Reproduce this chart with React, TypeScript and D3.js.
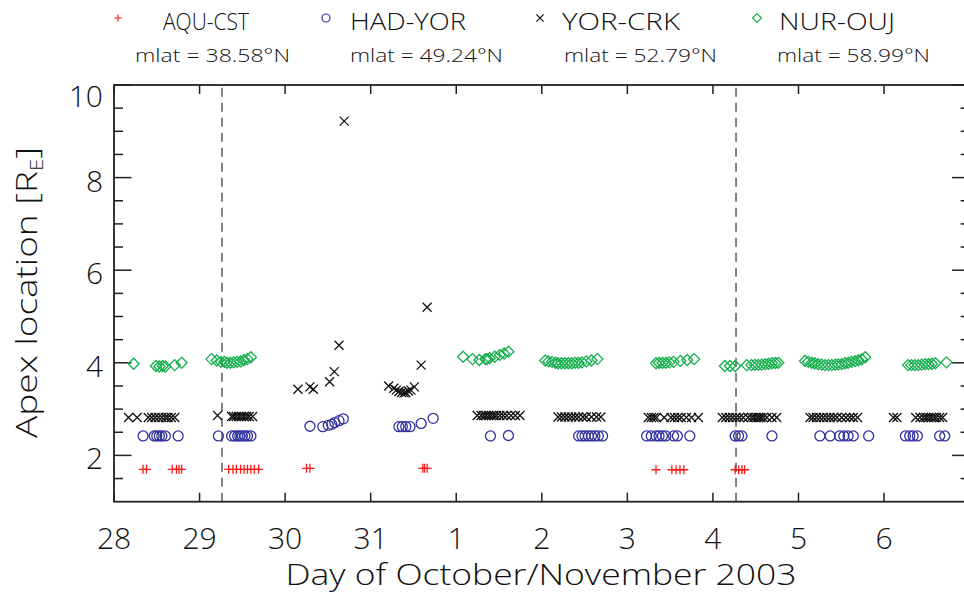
import React from "react";
import * as d3 from "d3";

// ---------- data ----------
const aquDays = [28.34, 28.38, 28.68, 28.73, 28.76, 28.79, 29.34, 29.39, 29.43, 29.48, 29.52, 29.56, 29.6, 29.64, 29.69, 30.25, 30.29, 31.61, 31.63, 31.66, 34.335, 34.52, 34.57, 34.615, 34.66, 35.26, 35.3, 35.34, 35.37];
const aquVals = [1.7, 1.7, 1.7, 1.7, 1.7, 1.7, 1.7, 1.7, 1.7, 1.7, 1.7, 1.7, 1.7, 1.7, 1.7, 1.72, 1.72, 1.72, 1.72, 1.72, 1.69, 1.69, 1.69, 1.69, 1.69, 1.69, 1.69, 1.69, 1.69];

const hadDays = [28.34, 28.47, 28.5, 28.53, 28.56, 28.6, 28.75, 29.22, 29.375, 29.41, 29.445, 29.47, 29.5, 29.53, 29.56, 29.6, 30.29, 30.44, 30.505, 30.545, 30.58, 30.63, 30.68, 31.33, 31.37, 31.41, 31.46, 31.59, 31.73, 32.4, 32.61, 33.43, 33.47, 33.505, 33.545, 33.58, 33.62, 33.66, 33.71, 34.225, 34.28, 34.335, 34.37, 34.41, 34.45, 34.54, 34.585, 34.73, 35.26, 35.3, 35.34, 35.69, 36.25, 36.37, 36.48, 36.53, 36.58, 36.64, 36.82, 37.25, 37.3, 37.34, 37.39, 37.65, 37.71];
const hadVals = [2.42, 2.42, 2.42, 2.42, 2.42, 2.42, 2.42, 2.42, 2.42, 2.42, 2.42, 2.42, 2.42, 2.42, 2.42, 2.42, 2.63, 2.62, 2.65, 2.67, 2.71, 2.75, 2.79, 2.62, 2.62, 2.62, 2.62, 2.69, 2.8, 2.42, 2.43, 2.42, 2.42, 2.42, 2.42, 2.42, 2.42, 2.42, 2.42, 2.42, 2.42, 2.42, 2.42, 2.42, 2.42, 2.42, 2.42, 2.42, 2.42, 2.42, 2.42, 2.42, 2.42, 2.42, 2.42, 2.42, 2.42, 2.42, 2.42, 2.42, 2.42, 2.42, 2.42, 2.42, 2.42];

const yorDays = [28.17, 28.27, 28.4, 28.44, 28.48, 28.52, 28.56, 28.6, 28.63, 28.67, 28.71, 29.21, 29.375, 29.4, 29.43, 29.46, 29.49, 29.52, 29.55, 29.58, 29.62, 30.15, 30.29, 30.33, 30.52, 30.575, 30.63, 30.69, 31.21, 31.27, 31.3, 31.33, 31.36, 31.39, 31.41, 31.44, 31.47, 31.51, 31.59, 31.66,
  32.245, 32.29, 32.32, 32.35, 32.38, 32.41, 32.44, 32.47, 32.51, 32.55, 32.59, 32.64, 32.69, 32.745,
  33.19, 33.23, 33.27, 33.31, 33.35, 33.39, 33.43, 33.48, 33.52, 33.58, 33.64, 33.69,
  34.245, 34.28, 34.31, 34.34, 34.43, 34.51, 34.55, 34.59, 34.63, 34.69, 34.75, 34.83,
  35.11, 35.15, 35.19, 35.23, 35.27, 35.31, 35.355, 35.41, 35.45, 35.48, 35.51, 35.535, 35.56, 35.59, 35.63, 35.69, 35.745,
  36.135, 36.17, 36.21, 36.25, 36.29, 36.33, 36.37, 36.41, 36.45, 36.505, 36.555, 36.6, 36.64, 36.69,
  37.11, 37.15, 37.37, 37.42, 37.46, 37.49, 37.52, 37.55, 37.58, 37.61, 37.65, 37.685];
const yorVals = [2.82, 2.82, 2.82, 2.82, 2.82, 2.82, 2.82, 2.82, 2.82, 2.82, 2.82, 2.86, 2.84, 2.84, 2.84, 2.84, 2.84, 2.84, 2.84, 2.84, 2.84, 3.43, 3.48, 3.43, 3.59, 3.81, 4.38, 9.22, 3.5, 3.45, 3.41, 3.38, 3.36, 3.35, 3.36, 3.39, 3.41, 3.48, 3.95, 5.2,
  2.86, 2.86, 2.86, 2.86, 2.86, 2.86, 2.86, 2.86, 2.86, 2.86, 2.86, 2.86, 2.86, 2.86,
  2.83, 2.83, 2.83, 2.83, 2.83, 2.83, 2.83, 2.83, 2.83, 2.83, 2.83, 2.83,
  2.82, 2.82, 2.82, 2.82, 2.82, 2.82, 2.82, 2.82, 2.82, 2.82, 2.82, 2.82,
  2.82, 2.82, 2.82, 2.82, 2.82, 2.82, 2.82, 2.82, 2.82, 2.82, 2.82, 2.82, 2.82, 2.82, 2.82, 2.82, 2.82,
  2.82, 2.82, 2.82, 2.82, 2.82, 2.82, 2.82, 2.82, 2.82, 2.82, 2.82, 2.82, 2.82, 2.82,
  2.82, 2.82, 2.82, 2.82, 2.82, 2.82, 2.82, 2.82, 2.82, 2.82, 2.82, 2.82];

const nurDays = [28.23, 28.49, 28.53, 28.57, 28.6, 28.71, 28.79,
  29.14, 29.2, 29.25, 29.29, 29.32, 29.36, 29.4, 29.44, 29.48, 29.52, 29.56, 29.6,
  32.08, 32.19, 32.27, 32.34, 32.36, 32.39, 32.45, 32.51, 32.56, 32.61,
  33.04, 33.08, 33.12, 33.16, 33.19, 33.23, 33.27, 33.31, 33.35, 33.39, 33.43, 33.47, 33.52, 33.58, 33.65,
  34.335, 34.37, 34.41, 34.45, 34.49, 34.54, 34.62, 34.7, 34.78,
  35.14, 35.2, 35.26, 35.395, 35.45, 35.49, 35.53, 35.57, 35.61, 35.65, 35.69, 35.73, 35.765,
  36.076, 36.115, 36.155, 36.19, 36.23, 36.27, 36.31, 36.35, 36.39, 36.43, 36.465, 36.505, 36.545, 36.58, 36.62, 36.66, 36.7, 36.74, 36.78,
  37.28, 37.32, 37.36, 37.4, 37.44, 37.48, 37.52, 37.56, 37.6, 37.73];
const nurVals = [3.98, 3.93, 3.92, 3.93, 3.92, 3.95, 4.0,
  4.08, 4.05, 4.02, 4.02, 4.0, 4.0, 4.01, 4.02, 4.03, 4.06, 4.08, 4.12,
  4.13, 4.08, 4.06, 4.08, 4.08, 4.1, 4.13, 4.17, 4.2, 4.24,
  4.05, 4.03, 4.02, 4.0, 3.99, 3.99, 3.99, 3.99, 3.99, 4.0, 4.0, 4.01, 4.03, 4.05, 4.08,
  3.99, 4.0, 4.0, 4.0, 4.01, 4.02, 4.04, 4.06, 4.08,
  3.93, 3.93, 3.93, 3.95, 3.95, 3.955, 3.955, 3.96, 3.97, 3.98, 3.99, 3.995, 4.0,
  4.04, 4.02, 4.0, 3.99, 3.97, 3.96, 3.95, 3.95, 3.95, 3.96, 3.965, 3.97, 3.99, 4.0, 4.02, 4.035, 4.055, 4.075, 4.12,
  3.95, 3.95, 3.95, 3.95, 3.96, 3.97, 3.97, 3.98, 3.99, 4.01];

const stationNames = ["AQU-CST", "HAD-YOR", "YOR-CRK", "NUR-OUJ"];
const stationMlat = ["mlat = 38.58°N", "mlat = 49.24°N", "mlat = 52.79°N", "mlat = 58.99°N"];
const dayTicks = [28, 29, 30, 31, 32, 33, 34, 35, 36, 37];
const yMajorTicks = [2, 4, 6, 8, 10];
const dashedDays = [29.262, 35.27];

// ---------- layout ----------
const W = 964, H = 593;
const FONT = "'Open Sans', 'Liberation Sans', Arial, sans-serif";
const FW = 300;
const x = d3.scaleLinear().domain([28, 38]).range([114, 969.6]);
const y = d3.scaleLinear().domain([1, 10]).range([501.7, 85]);

const RED = "#ff1a1a", BLUE = "#32329e", BLACK = "#111111", GREEN = "#14ae4c";

const sym = {
  plus: "M-4.5,0H4.5M0,-4.5V4.5",
  circle: "M5,0A5,5 0 1,1 -5,0A5,5 0 1,1 5,0Z",
  cross: "M-4.5,-4.5L4.5,4.5M-4.5,4.5L4.5,-4.5",
  diamond: "M0,-5.5L5.5,0L0,5.5L-5.5,0Z",
};

const series = [
  { days: aquDays, vals: aquVals, path: sym.plus, color: RED },
  { days: hadDays, vals: hadVals, path: sym.circle, color: BLUE },
  { days: yorDays, vals: yorVals, path: sym.cross, color: BLACK },
  { days: nurDays, vals: nurVals, path: sym.diamond, color: GREEN },
];

const legendSymX = [118, 326, 540, 757];
const legendTextX = [163, 350, 562, 779];
const legendTextW = [86, 116, 118, 116];
const mlatX = [135, 350, 564, 777];
const mlatW = [155, 153, 153, 153];

const dayLabel = (d: number) => String(d <= 31 ? d : d - 31);

export default function App() {
  const [x0, x1] = x.range();
  const [y0, y1] = y.range();
  const yMinor = d3.range(1.5, 10, 0.5).filter((v) => !yMajorTicks.includes(v));
  return (
    <svg width={W} height={H} style={{ position: "absolute", left: 0, top: 0, background: "#fff" }} fontFamily={FONT} fontWeight={FW}>
      <rect width={W} height={H} fill="#fff" />
      {dashedDays.map((d, i) => (
        <line key={"dl" + i} x1={x(d)} x2={x(d)} y1={y0} y2={y1} stroke="#333" strokeWidth={1.2} strokeDasharray="9,6" />
      ))}
      <rect x={x0} y={y1} width={x1 - x0} height={y0 - y1} fill="none" stroke="#222" strokeWidth={1.8} />
      {dayTicks.map((d) => (
        <g key={"xt" + d}>
          <line x1={x(d)} x2={x(d)} y1={y0} y2={y0 - 9} stroke="#222" strokeWidth={1.5} />
          <line x1={x(d)} x2={x(d)} y1={y1} y2={y1 + 9} stroke="#222" strokeWidth={1.5} />
          <text x={x(d)} y={549} fontSize={30} textAnchor="middle" fill="#111">{dayLabel(d)}</text>
        </g>
      ))}
      {yMajorTicks.map((v) => (
        <g key={"yt" + v}>
          <line x1={x0} x2={x0 + 17.5} y1={y(v)} y2={y(v)} stroke="#222" strokeWidth={1.5} />
          <line x1={x1} x2={x1 - 17.5} y1={y(v)} y2={y(v)} stroke="#222" strokeWidth={1.5} />
          <text x={103} y={v === 10 ? y(v) + 21.7 : y(v) + 14} fontSize={30} textAnchor="end" fill="#111">{v}</text>
        </g>
      ))}
      {yMinor.map((v) => (
        <g key={"ym" + v}>
          <line x1={x0} x2={x0 + 9} y1={y(v)} y2={y(v)} stroke="#222" strokeWidth={1.5} />
          <line x1={x1} x2={x1 - 9} y1={y(v)} y2={y(v)} stroke="#222" strokeWidth={1.5} />
        </g>
      ))}
      <text x={541} y={585} fontSize={29} textAnchor="middle" fill="#111" textLength={511} lengthAdjust="spacingAndGlyphs">
        Day of October/November 2003
      </text>
      <text transform="translate(37,292.5) rotate(-90)" fontSize={30} textAnchor="middle" fill="#111" textLength={291} lengthAdjust="spacingAndGlyphs">
        Apex location [R<tspan fontSize={18} dy={6}>E</tspan><tspan dy={-6}>]</tspan>
      </text>
      {series.map((s, si) => (
        <g key={"s" + si}>
          {s.days.map((d, i) => (
            <path key={i} d={s.path} transform={`translate(${x(d)},${y(s.vals[i])})`} fill="none" stroke={s.color} strokeWidth={1.3} />
          ))}
        </g>
      ))}
      {series.map((s, i) => (
        <g key={"lg" + i}>
          <path d={s.path} transform={`translate(${legendSymX[i]},18) scale(0.8)`} fill="none" stroke={s.color} strokeWidth={1.5} />
          <text x={legendTextX[i]} y={30} fontSize={24} fill="#111" textLength={legendTextW[i]} lengthAdjust="spacingAndGlyphs">{stationNames[i]}</text>
          <text x={mlatX[i]} y={62} fontSize={19} fill="#111" textLength={mlatW[i]} lengthAdjust="spacingAndGlyphs">{stationMlat[i]}</text>
        </g>
      ))}
    </svg>
  );
}
